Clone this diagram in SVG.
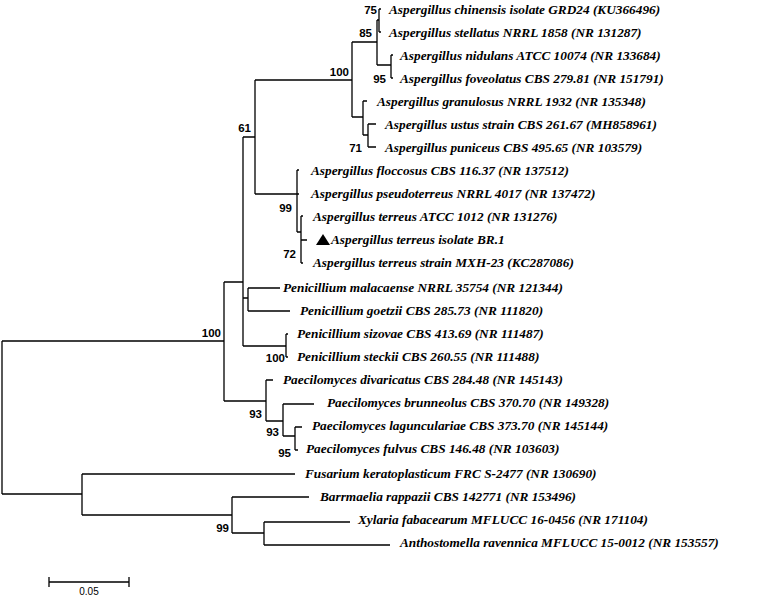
<svg xmlns="http://www.w3.org/2000/svg" width="777" height="596" viewBox="0 0 777 596">
<style>
.t{font-family:"Liberation Serif",serif;font-weight:bold;font-style:italic;font-size:13.3px;fill:#000}
.b{font-family:"Liberation Sans",sans-serif;font-weight:bold;font-size:11.5px;fill:#000;text-anchor:end}
.e{stroke:#000;stroke-width:1.3;fill:none}
</style>
<rect width="777" height="596" fill="#fff"/>
<g id="edges" class="e">
<path d="M2,341V494M2,341H224M2,494H82"/>
<path d="M224,282V401M224,282H243M224,401H266"/>
<path d="M243,137V346M243,137H255M243,298H248M243,346H286"/>
<path d="M255,80V194M255,80H352M255,194H297"/>
<path d="M352,42V117M352,42H377M352,117H363"/>
<path d="M377,20V65M377,20H379M379,9V32M379,9H381M379,32H381M377,65H391M391,55V78M391,55H393M391,78H393"/>
<path d="M363,101V135M363,101H367M363,135H368M368,124V147M368,124H376M368,147H376"/>
<path d="M297,170V232M297,170H299M297,194H299M297,232H301M301,216V263M301,216H303M301,240H307M301,263H303"/>
<path d="M248,288V311M248,288H280M248,311H290"/>
<path d="M286,334V357M286,334H288M286,357H288"/>
<path d="M266,380V421M266,380H273M266,421H283M283,404V436M283,404H314M283,436H295M295,427V450M295,427H302M295,450H298"/>
<path d="M82,474V515M82,474H295M82,515H232M232,497V533M232,497H309M232,533H264M264,522V545M264,522H350M264,545H390"/>
<path d="M49,582H129M49,577V587M129,577V587"/>
</g>
<g id="leaves">
<text class="t" x="389" y="14">Aspergillus chinensis isolate GRD24 (KU366496)</text>
<text class="t" x="389" y="37">Aspergillus stellatus NRRL 1858 (NR 131287)</text>
<text class="t" x="400" y="60">Aspergillus nidulans ATCC 10074 (NR 133684)</text>
<text class="t" x="400" y="83">Aspergillus foveolatus CBS 279.81 (NR 151791)</text>
<text class="t" x="377" y="106">Aspergillus granulosus NRRL 1932 (NR 135348)</text>
<text class="t" x="385" y="129">Aspergillus ustus strain CBS 261.67 (MH858961)</text>
<text class="t" x="385" y="152">Aspergillus puniceus CBS 495.65 (NR 103579)</text>
<text class="t" x="311" y="175">Aspergillus floccosus CBS 116.37 (NR 137512)</text>
<text class="t" x="311" y="198">Aspergillus pseudoterreus NRRL 4017 (NR 137472)</text>
<text class="t" x="313" y="221">Aspergillus terreus ATCC 1012 (NR 131276)</text>
<polygon points="316,245 323,234 330,245" fill="#000"/>
<text class="t" x="331" y="244">Aspergillus terreus isolate BR.1</text>
<text class="t" x="313" y="267">Aspergillus terreus strain MXH-23 (KC287086)</text>
<text class="t" x="283" y="292">Penicillium malacaense NRRL 35754 (NR 121344)</text>
<text class="t" x="300" y="315">Penicillium goetzii CBS 285.73 (NR 111820)</text>
<text class="t" x="297" y="338">Penicillium sizovae CBS 413.69 (NR 111487)</text>
<text class="t" x="297" y="361">Penicillium steckii CBS 260.55 (NR 111488)</text>
<text class="t" x="283" y="384">Paecilomyces divaricatus CBS 284.48 (NR 145143)</text>
<text class="t" x="327" y="407">Paecilomyces brunneolus CBS 370.70 (NR 149328)</text>
<text class="t" x="312" y="430">Paecilomyces lagunculariae CBS 373.70 (NR 145144)</text>
<text class="t" x="306" y="453">Paecilomyces fulvus CBS 146.48 (NR 103603)</text>
<text class="t" x="305" y="478">Fusarium keratoplasticum FRC S-2477 (NR 130690)</text>
<text class="t" x="320" y="501">Barrmaelia rappazii CBS 142771 (NR 153496)</text>
<text class="t" x="358" y="524">Xylaria fabacearum MFLUCC 16-0456 (NR 171104)</text>
<text class="t" x="400" y="547">Anthostomella ravennica MFLUCC 15-0012 (NR 153557)</text>
</g>
<g id="bootstrap">
<text class="b" x="377" y="14">75</text>
<text class="b" x="372" y="37">85</text>
<text class="b" x="349" y="76">100</text>
<text class="b" x="386" y="83">95</text>
<text class="b" x="362" y="152">71</text>
<text class="b" x="251" y="132">61</text>
<text class="b" x="292" y="212">99</text>
<text class="b" x="296" y="258">72</text>
<text class="b" x="221" y="337">100</text>
<text class="b" x="285" y="362">100</text>
<text class="b" x="262" y="418">93</text>
<text class="b" x="279" y="436">93</text>
<text class="b" x="291" y="457">95</text>
<text class="b" x="229" y="532">99</text>
<text x="89" y="595" font-family="Liberation Sans,sans-serif" font-size="10" text-anchor="middle">0.05</text>
</g>
</svg>
